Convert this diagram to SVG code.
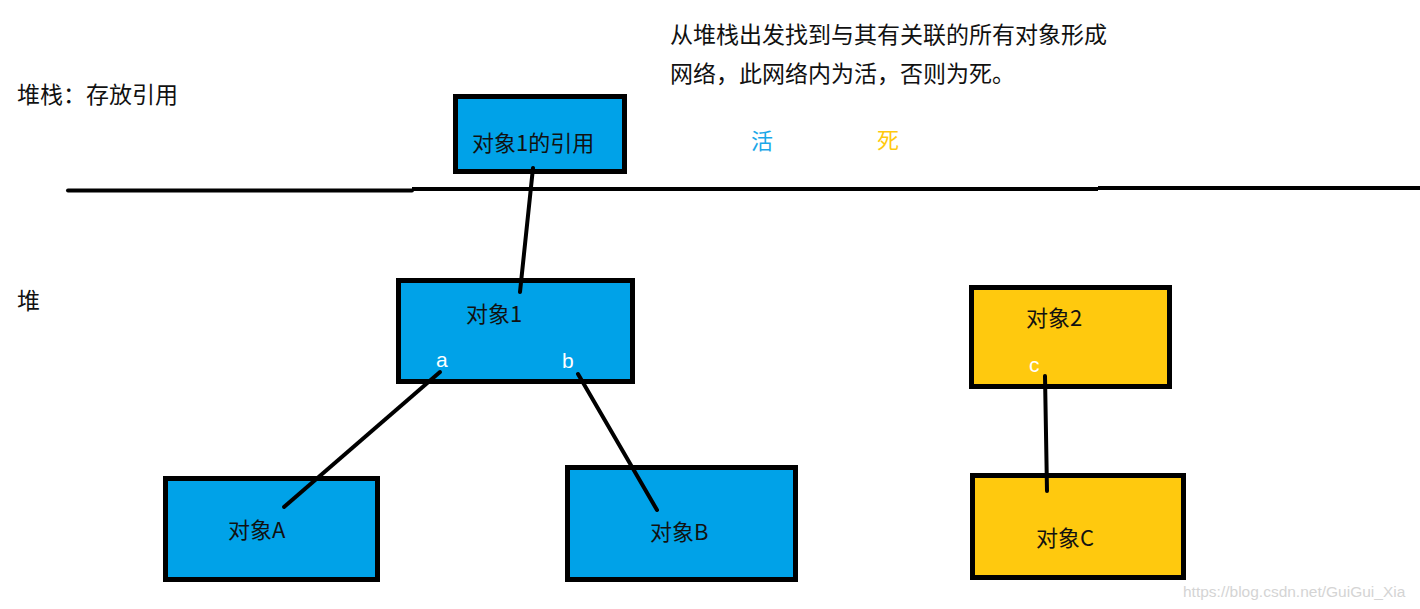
<svg xmlns="http://www.w3.org/2000/svg" width="1420" height="609" viewBox="0 0 1420 609">
<style>
.box{stroke:#000;stroke-width:5}
.live{fill:#00A2E8}
.dead{fill:#FFC90E}
.t{font-family:"Microsoft YaHei","Noto Sans CJK SC","Noto Sans",sans-serif;font-size:22px;fill:#111}
.big{font-size:23px}
.w{fill:#fff;font-family:"Liberation Sans","Noto Sans",sans-serif;font-size:21px}
.ln{stroke:#000;stroke-width:4;stroke-linecap:round;fill:none}
</style>
<rect width="1420" height="609" fill="#fff"/>
<text class="t big" x="670" y="43">从堆栈出发找到与其有关联的所有对象形成</text>
<text class="t big" x="670" y="82">网络，此网络内为活，否则为死。</text>
<text class="t big" x="17" y="103">堆栈：存放引用</text>
<text class="t big" x="17" y="309">堆</text>
<text class="t" x="751" y="149" style="fill:#1AA7E8">活</text>
<text class="t" x="877" y="148" style="fill:#FFC90E">死</text>
<g id="divider">
<polyline class="ln" points="68,190.5 412,190.5" />
<polyline class="ln" style="stroke-linecap:butt" points="412,189 1098,189" />
<polyline class="ln" style="stroke-linecap:butt" points="1098,188 1420,188" />
</g>
<g id="ref1">
<rect class="box live" x="455.5" y="96.5" width="169" height="75"/>
<text class="t" x="472" y="151">对象1的引用</text>
</g>
<g id="obj1">
<rect class="box live" x="398.5" y="280.5" width="234" height="101"/>
<text class="t" x="466" y="322">对象1</text>
<text class="w" x="436" y="367">a</text>
<text class="w" x="562" y="368">b</text>
</g>
<g id="objA">
<rect class="box live" x="165.5" y="478.5" width="212" height="101"/>
<text class="t" x="228" y="538">对象A</text>
</g>
<g id="objB">
<rect class="box live" x="567.5" y="467.5" width="228" height="112"/>
<text class="t" x="650" y="540">对象B</text>
</g>
<g id="obj2">
<rect class="box dead" x="971.5" y="287.5" width="198" height="99"/>
<text class="t" x="1026" y="326">对象2</text>
<text class="w" x="1029" y="372">c</text>
</g>
<g id="objC">
<rect class="box dead" x="972.5" y="475.5" width="211" height="102"/>
<text class="t" x="1036" y="546">对象C</text>
</g>
<g id="connectors">
<line class="ln" x1="533" y1="168" x2="520" y2="292"/>
<line class="ln" x1="440" y1="372" x2="284" y2="507"/>
<line class="ln" x1="578" y1="374" x2="657" y2="510"/>
<line class="ln" x1="1045" y1="376" x2="1047" y2="491"/>
</g>
<text x="1183" y="597" style="font-family:'Liberation Sans',Arial,sans-serif;font-size:15.5px;fill:#d4d4d4">https://blog.csdn.net/GuiGui_Xia</text>
</svg>
